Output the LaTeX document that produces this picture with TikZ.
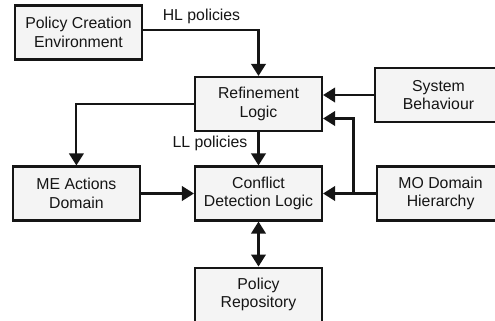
\documentclass[tikz,border=0pt]{standalone}
\usepackage{fontspec}
\setmainfont{Liberation Sans}
\usepackage{tikz}
\usetikzlibrary{arrows.meta, positioning}
\definecolor{boxfill}{HTML}{F4F4F4}
\definecolor{ink}{HTML}{151515}

\begin{document}
\begin{tikzpicture}[
            > = {Triangle[length=2.4mm, width=2.9mm]}, % arrow head style
            font = \fontsize{9}{10.5}\selectfont,
            line width = 1.2pt, % line style
            draw = ink
        ]

        \tikzstyle{block}=[
            draw = ink,
            fill = boxfill,
            text = ink,
            align = center,
            minimum width = 2.54cm,
            minimum height = 1.08cm,
            inner sep = 0pt
        ]

        \useasboundingbox (0,0) rectangle (9.9,-6.4);

        \node[block] (refine) at (5.17,-2.08) {Refinement\\Logic};
        \node[block] (conflict) at (5.17,-3.87) {Conflict\\Detection Logic};
        \node[block] (me) [left=1.06cm of conflict] {ME Actions\\Domain};
        \node[block] (mo) [right=1.06cm of conflict] {MO Domain\\Hierarchy};
        \node[block] (repo) [below=0.9cm of conflict] {Policy\\Repository};
        \node[block] (pce) at (1.57,-0.65) {Policy Creation\\Environment};
        \node[block] (sys) at (8.77,-1.9) {System\\Behaviour};

        \node[text = ink] (hl) at (4.03,-0.33) {HL policies};
        \node[text = ink] (ll) at (4.2,-2.87) {LL policies};

        \coordinate (junc) at (7.07,-3.87);

        \draw[->] ([yshift=0.05cm]pce.east) -| (refine.north);
        \draw[->] (refine.west) -| (me.north);
        \draw[->] (refine.south) -- (conflict.north);
        \draw[->] (sys.west) -- (refine.east |- sys.west);
        \draw[->] (me.east) -- (conflict.west);
        \draw[->] (mo.west) -- (conflict.east);
        \draw[->] (junc) |- ([yshift=-0.29cm]refine.east);
        \draw[<->] (conflict.south) -- (repo.north);

    \end{tikzpicture}
\end{document}
